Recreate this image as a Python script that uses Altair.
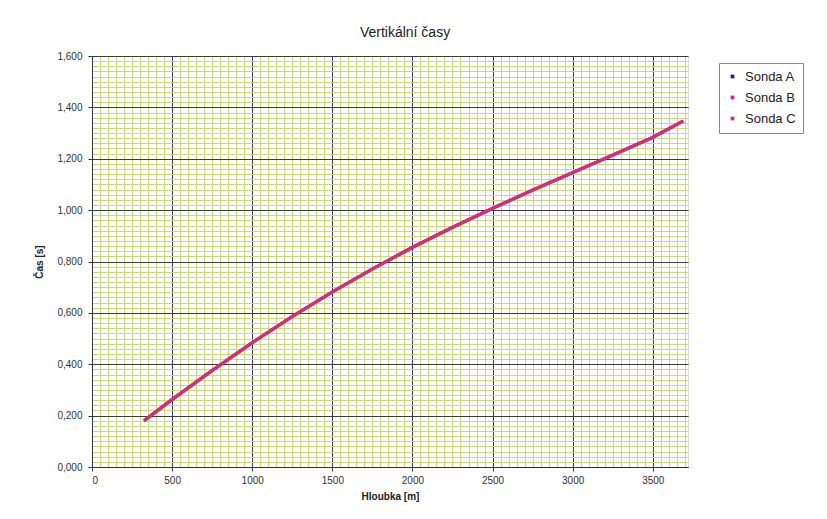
import altair as alt
import pandas as pd

series = ["Sonda A", "Sonda B", "Sonda C"]
depths = [325, 500, 750, 1000, 1250, 1500, 1750, 2000, 2250, 2500, 2750, 3000, 3250, 3500, 3690]
sonda_a = [0.180, 0.263, 0.376, 0.484, 0.586, 0.681, 0.771, 0.855, 0.933, 1.007, 1.078, 1.146, 1.214, 1.283, 1.347]
sonda_b = [0.181, 0.264, 0.377, 0.485, 0.587, 0.682, 0.772, 0.856, 0.934, 1.008, 1.079, 1.147, 1.215, 1.284, 1.348]
sonda_c = [0.179, 0.262, 0.375, 0.483, 0.585, 0.680, 0.770, 0.854, 0.932, 1.006, 1.077, 1.145, 1.213, 1.282, 1.346]
colors = ["#1c2270", "#e01aa8", "#d8306e"]

x_major = [0, 500, 1000, 1500, 2000, 2500, 3000, 3500]
x_minor = list(range(0, 3751, 50))
y_major = [0.0, 0.2, 0.4, 0.6, 0.8, 1.0, 1.2, 1.4, 1.6]
y_minor = [round(i * 0.02, 2) for i in range(81)]

rows = []
for name, vals in zip(series, [sonda_a, sonda_b, sonda_c]):
    for d, v in zip(depths, vals):
        rows.append({"depth": d, "time": v, "series": name})
df = pd.DataFrame(rows)

FONT = "Liberation Sans"
xscale = alt.Scale(domain=[0, 3720], nice=False, zero=False)
yscale = alt.Scale(domain=[0, 1.6], nice=False)

base = alt.Chart(df)

minor = base.mark_line(opacity=0).encode(
    x=alt.X("depth:Q", scale=xscale, axis=alt.Axis(
        orient="bottom", values=x_minor, grid=True, gridColor="#c6da78", gridWidth=1,
        labels=False, ticks=False, domain=False, title=None)),
    y=alt.Y("time:Q", scale=yscale, axis=alt.Axis(
        orient="left", values=y_minor, grid=True, gridColor="#c6da78", gridWidth=1,
        labels=False, ticks=False, domain=False, title=None)),
)

major = base.mark_line(opacity=0).encode(
    x=alt.X("depth:Q", scale=xscale, axis=alt.Axis(
        orient="bottom", values=x_major, format="d", grid=True, gridColor="#3c3c3c", gridWidth=1,
        domainColor="#333333", tickColor="#333333", tickSize=4, labelPadding=4,
        labelFont=FONT, labelFontSize=10, labelColor="#333333",
        title="Hloubka [m]", titleFont=FONT, titleFontSize=10, titleFontWeight="bold",
        titleColor="#222222", titlePadding=6)),
    y=alt.Y("time:Q", scale=yscale, axis=alt.Axis(
        orient="left", values=y_major, grid=True, gridColor="#3c3c3c", gridWidth=1,
        domainColor="#333333", tickColor="#333333", tickSize=4, labelPadding=6,
        labelExpr="replace(format(datum.value, '.3f'), '.', ',')",
        labelFont=FONT, labelFontSize=10, labelColor="#333333",
        title="Čas [s]", titleFont=FONT, titleFontSize=10, titleFontWeight="bold",
        titleColor="#222222", titlePadding=12)),
)

lines = base.mark_line(strokeWidth=3, opacity=0.9).encode(
    x=alt.X("depth:Q", scale=xscale, axis=None),
    y=alt.Y("time:Q", scale=yscale, axis=None),
    color=alt.Color("series:N", scale=alt.Scale(domain=series, range=colors),
                    legend=alt.Legend(
                        title=None, orient="none", legendX=627, legendY=7,
                        symbolType="square", symbolSize=3, symbolStrokeWidth=2,
                        symbolOpacity=1,
                        labelFont=FONT, labelFontSize=13, labelColor="#222222",
                        labelOffset=6,
                        strokeColor="#888888", padding=7, rowPadding=7,
                        fillColor="#ffffff")),
)

chart = alt.layer(minor, major, lines).resolve_axis(
    x="independent", y="independent"
).properties(
    width=596, height=411,
    title=alt.TitleParams("Vertikální časy", font=FONT, fontSize=14, fontWeight="normal",
                          color="#222222", offset=11, dx=15),
    autosize=alt.AutoSizeParams(type="none"),
    padding={"left": 84, "top": 48, "right": 120, "bottom": 40},
).configure_view(stroke=None, fill="#ffffff").configure(background="#ffffff")

chart.save("out.html", embed_options={"renderer": "svg", "actions": False})
